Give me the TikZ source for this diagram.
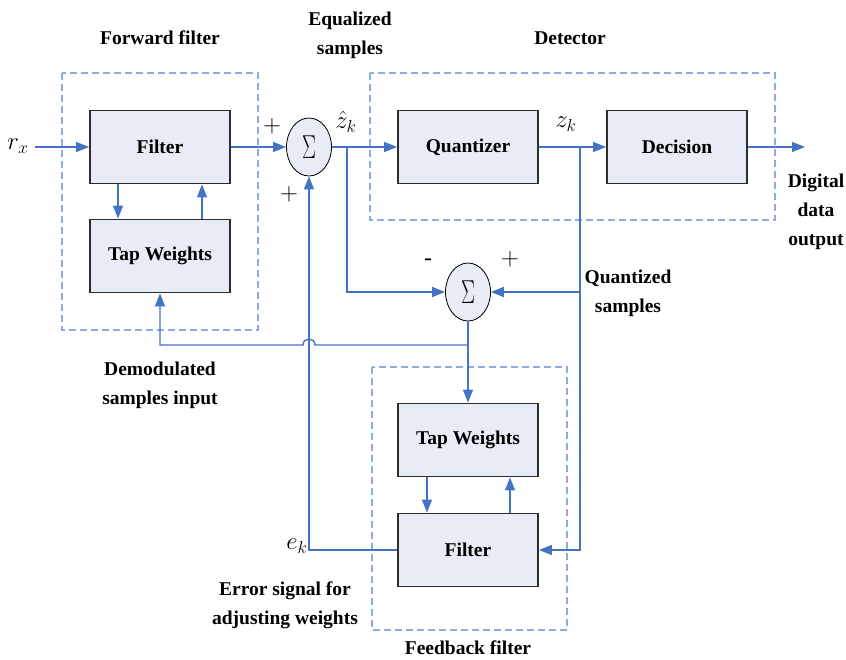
\documentclass[tikz,border=0pt]{standalone}
\usepackage{fontspec}
\setmainfont{Liberation Serif}
\usetikzlibrary{arrows.meta,shapes.geometric,positioning}
\definecolor{sigblue}{RGB}{68,114,196}
\definecolor{dashblue}{RGB}{143,172,222}
\definecolor{boxfill}{RGB}{232,236,246}
\definecolor{boxedge}{RGB}{45,45,45}

\begin{document}
\begin{tikzpicture}[x=1pt,y=-1pt,
        blk/.style={draw=boxedge, line width=1.8pt, fill=boxfill, minimum width=140, minimum height=73, font=\bfseries\fontsize{19.5}{29}\selectfont},
        summer/.style={ellipse, draw=black, line width=0.8pt, fill=boxfill, minimum width=45, minimum height=58, inner sep=0pt, font=\fontsize{20}{24}\selectfont},
        sig/.style={draw=sigblue, line width=1.4pt, -{Triangle[length=13pt,width=10pt]}},
        grp/.style={draw=dashblue, line width=1.8pt, dash pattern=on 7pt off 4pt},
        lbl/.style={font=\bfseries\fontsize{19.5}{29}\selectfont, align=center},
        sym/.style={font=\fontsize{24}{28}\selectfont}]
        \useasboundingbox (0,0) rectangle (846,659);

        % dashed groups
        \draw[grp] (62,73) rectangle (258,330);
        \draw[grp] (370,73) rectangle (775,220);
        \draw[grp] (372,367) rectangle (567,630);

        % blocks
        \node[blk] (filt1) at (160,147) {Filter};
        \node[blk] (tap1) at (160,256) {Tap Weights};
        \node[summer] (sum1) at (309,147) {\scalebox{1}[1.6]{$\Sigma$}};
        \node[blk] (quant) at (468,147) {Quantizer};
        \node[blk] (dec) at (677,147) {Decision};
        \node[summer] (sum2) at (468,292) {\scalebox{1}[1.6]{$\Sigma$}};
        \node[blk] (tap2) at (468,440) {Tap Weights};
        \node[blk] (filt2) at (468,550) {Filter};

        \coordinate (rin) at (35,147);
        \coordinate (zhat) at (347,147);
        \coordinate (zq) at (580,147);
        \coordinate (dout) at (805,147);
        \coordinate (fb) at (468,345);
        \coordinate (hop) at (sum1 |- fb);

        % signal paths
        \draw[sig] (rin) -- (filt1);
        \draw[sig] (filt1) -- (sum1);
        \draw[sig] (sum1) -- (quant);
        \draw[sig] (quant) -- (dec);
        \draw[sig] (dec) -- (dout);
        \draw[sig] ([xshift=-42]filt1.south) -- ([xshift=-42]tap1.north);
        \draw[sig] ([xshift=42]tap1.north) -- ([xshift=42]filt1.south);
        \draw[sig] (zhat) |- (sum2);
        \draw[sig] (zq) |- (sum2);
        \draw[sig] (zq) |- (filt2);
        \draw[sig] (sum2) -- (tap2);
        \draw[sig] ([xshift=-41]tap2.south) -- ([xshift=-41]filt2.north);
        \draw[sig] ([xshift=42]filt2.north) -- ([xshift=42]tap2.south);
        \draw[sig] (filt2) -| (sum1);
        \draw[sig] (fb) -- ([xshift=6]hop) .. controls ([xshift=6,yshift=8]hop) and ([xshift=-6,yshift=8]hop) .. ([xshift=-6]hop) -| (tap1);

        % symbols
        \node[sym] (rx) at (18,146) {$r_x$};
        \node[sym] (zhatl) at (346,122) {$\hat{z}_k$};
        \node[sym] (zkl) at (566,124) {$z_k$};
        \node[sym] (ekl) at (297,546) {$e_k$};
        \node[sym] (p1) at (272,126) {$+$};
        \node[sym] (p2) at (289,194) {$+$};
        \node[sym] (m2) at (428,262) {-};
        \node[sym] (p3) at (510,259) {$+$};

        % titles
        \node[lbl] (fwdt) at (160,38) {Forward filter};
        \node[lbl] (eqt) at (350,35) {Equalized\\samples};
        \node[lbl] (dett) at (570,38) {Detector};
        \node[lbl] (outt) at (816,212) {Digital\\data\\output};
        \node[lbl] (qst) at (628,293) {Quantized\\samples};
        \node[lbl] (demt) at (160,385) {Demodulated\\samples input};
        \node[lbl] (errt) at (285,605) {Error signal for\\adjusting weights};
        \node[lbl] (fbt) at (468,648) {Feedback filter};
    \end{tikzpicture}
\end{document}
